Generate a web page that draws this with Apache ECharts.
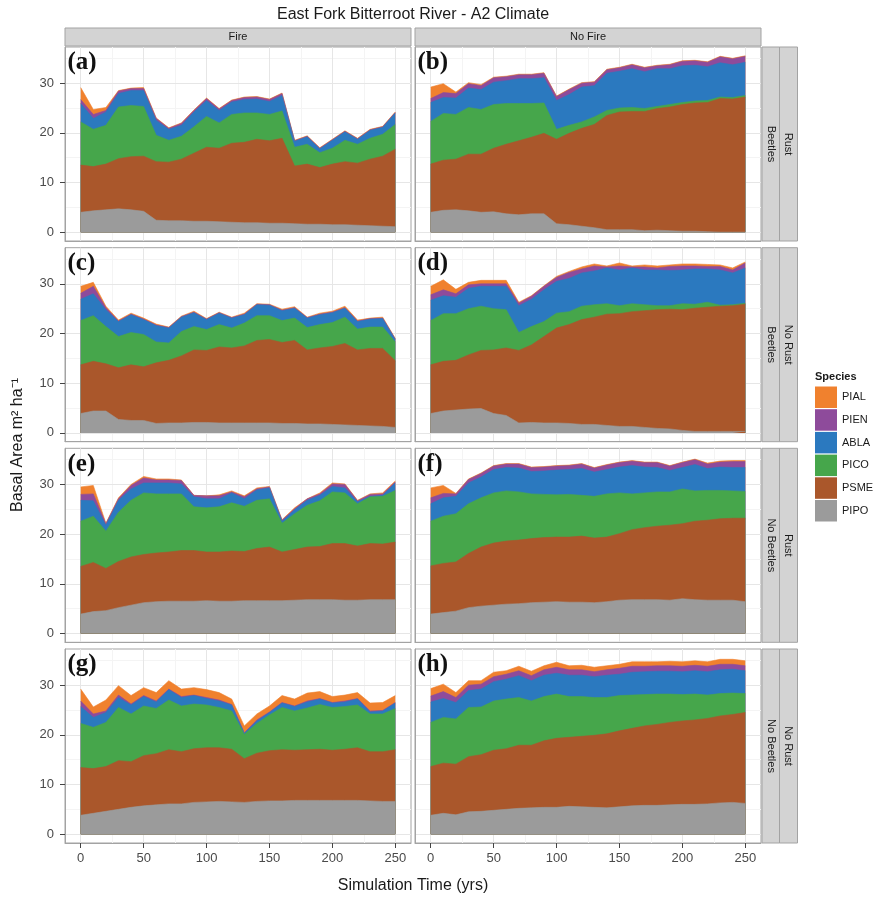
<!DOCTYPE html>
<html><head><meta charset="utf-8">
<script src="https://cdn.jsdelivr.net/npm/echarts@6/dist/echarts.min.js"></script>
<style>html,body{margin:0;padding:0;background:#fff}#c{width:877px;height:900px}</style>
</head><body><div id="c"></div>
<script>
// ---------------- data ----------------
const years = [0,10,20,30,40,50,60,70,80,90,100,110,120,130,140,150,160,170,180,190,200,210,220,230,240,250];
const species = ['PIAL','PIEN','ABLA','PICO','PSME','PIPO'];
const speciesColors = ['#F0812E','#8E4B9B','#2B79BF','#46A64B','#AA572B','#9B9B9B'];
const fireLabels = ['Fire','No Fire'];
const beetleLabels = ['Beetles','Beetles','No Beetles','No Beetles'];
const rustLabels = ['Rust','No Rust','Rust','No Rust'];
const panelLabels = ['(a)','(b)','(c)','(d)','(e)','(f)','(g)','(h)'];
const xTicks = [0,50,100,150,200,250];
const yTicks = [0,10,20,30];
const xMinor = [25,75,125,175,225];
const yMinor = [5,15,25,35];
const chartTitle = 'East Fork Bitterroot River - A2 Climate';
const xTitle = 'Simulation Time (yrs)';
const yTitle = 'Basal Area m\u00B2 ha\u207B\u00B9';

// Values are the top edge of each species band in the stack (cumulative basal area, m2/ha)
// (a) Fire / Beetles / Rust
const a_PIAL = [29.1,24.7,25.1,28.5,29.0,29.1,23.0,21.0,22.0,24.6,27.0,24.9,26.6,27.2,27.3,26.8,28.0,18.5,19.4,17.0,18.7,20.4,18.9,20.7,21.3,24.2];
const a_PIEN = [26.7,23.7,24.5,28.4,28.9,28.9,22.9,20.9,21.9,24.5,26.9,24.8,26.5,27.1,27.2,26.7,27.9,18.4,19.3,16.9,18.6,20.3,18.8,20.6,21.2,24.1];
const a_ABLA = [25.9,22.9,24.2,27.9,28.5,28.5,22.5,20.7,21.5,24.2,26.5,24.5,26.2,26.7,26.8,26.3,27.5,18.3,19.2,16.8,18.5,20.2,18.7,20.5,21.1,24.0];
const a_PICO = [22.2,20.7,21.5,25.2,25.5,25.3,19.5,18.5,19.3,21.2,23.3,22.0,23.7,24.0,24.0,23.7,24.4,17.1,17.7,16.0,16.9,18.5,17.7,18.9,19.7,21.7];
const a_PSME = [13.5,13.2,13.7,14.8,15.2,15.3,14.2,14.1,14.7,15.9,17.1,16.9,17.9,18.1,18.7,18.4,18.9,13.3,13.7,13.0,13.7,14.2,13.9,14.7,15.3,16.7];
const a_PIPO = [4.0,4.3,4.5,4.7,4.5,4.2,2.4,2.3,2.3,2.2,2.2,2.1,2.0,1.9,1.9,1.8,1.8,1.7,1.6,1.6,1.5,1.5,1.4,1.3,1.2,1.1];
// (b) No Fire / Beetles / Rust
const b_PIAL = [29.2,29.9,28.2,30.1,29.7,31.2,31.4,31.8,31.8,32.1,27.4,28.8,30.1,30.3,32.8,33.2,33.8,33.2,33.6,33.8,34.5,34.6,34.3,35.4,35.0,35.5];
const b_PIEN = [26.9,28.1,27.9,29.9,29.5,31.1,31.3,31.7,31.7,32.0,27.3,28.7,30.0,30.2,32.7,33.1,33.7,33.1,33.5,33.7,34.4,34.5,34.2,35.3,34.9,35.4];
const b_ABLA = [26.1,27.1,27.0,29.0,28.7,30.2,30.5,30.9,30.9,31.1,26.5,27.7,29.2,29.5,32.0,32.4,32.9,32.3,32.9,32.9,33.5,33.6,33.3,34.1,33.7,34.2];
const b_PICO = [22.3,23.9,23.7,25.1,24.7,25.7,25.9,25.9,25.9,26.0,20.7,21.5,22.2,23.2,24.5,25.0,25.1,24.9,25.3,25.7,26.1,26.4,26.5,27.2,27.1,27.5];
const b_PSME = [13.7,14.5,14.7,15.7,15.7,16.9,17.7,18.4,19.1,19.9,18.7,19.9,20.9,21.7,23.5,24.2,24.3,24.3,24.9,25.2,25.7,26.0,26.1,26.9,26.8,27.2];
const b_PIPO = [4.0,4.4,4.5,4.3,4.0,4.1,3.7,3.5,3.7,3.7,1.7,1.5,1.2,0.9,0.5,0.5,0.5,0.3,0.4,0.3,0.2,0.2,0.1,0.0,0.0,0.0];
// (c) Fire / Beetles / No Rust
const c_PIAL = [29.5,30.3,25.5,22.7,24.1,23.1,21.9,21.3,23.5,24.5,23.0,24.3,23.3,24.1,26.0,25.9,24.9,25.4,23.3,24.1,24.5,25.5,22.7,23.1,23.3,19.0];
const c_PIEN = [28.1,29.5,25.2,22.5,23.9,22.9,21.7,21.2,23.4,24.3,22.9,24.2,23.2,23.9,25.9,25.8,24.7,25.2,23.2,23.9,24.3,25.2,22.5,23.0,23.1,18.9];
const c_ABLA = [26.9,28.0,24.8,22.4,23.8,22.8,21.6,21.1,23.3,24.2,22.8,24.1,23.1,23.8,25.8,25.7,24.6,25.1,23.1,23.8,24.2,25.1,22.4,22.9,23.0,18.8];
const c_PICO = [22.6,23.6,21.4,19.4,20.2,19.8,18.3,18.1,20.4,21.4,20.8,21.8,21.1,22.1,23.6,23.6,22.6,23.1,21.2,21.8,22.2,23.3,20.9,21.3,21.3,18.3];
const c_PSME = [13.7,14.4,13.9,13.1,13.7,13.3,14.1,14.6,15.5,16.7,16.6,17.3,17.1,17.5,18.6,18.8,18.2,18.6,16.7,17.1,17.4,18.0,16.7,17.0,17.0,14.5];
const c_PIPO = [3.9,4.4,4.4,2.7,2.5,2.5,1.9,2.0,2.0,2.1,2.1,2.0,2.0,2.0,2.0,2.0,1.9,1.9,1.8,1.8,1.7,1.6,1.5,1.4,1.3,1.1];
// (d) No Fire / Beetles / No Rust
const d_PIAL = [29.5,30.8,28.9,30.3,30.7,30.7,30.7,26.3,27.6,29.6,31.5,32.5,33.4,34.0,33.6,34.2,33.6,33.8,33.6,33.8,34.0,34.0,33.9,33.8,33.2,34.4];
const d_PIEN = [27.8,28.8,28.0,29.8,30.0,30.0,30.0,26.1,27.5,29.5,31.3,32.3,33.0,33.6,33.4,33.6,33.4,33.4,33.2,33.5,33.6,33.6,33.5,33.5,32.8,34.2];
const d_ABLA = [26.7,27.6,27.3,29.1,29.5,29.5,29.5,25.6,26.9,28.8,30.5,31.1,32.2,32.6,33.2,32.8,33.2,32.8,32.8,32.7,32.8,33.0,33.0,32.8,32.2,33.2];
const d_PICO = [22.6,24.0,24.0,25.0,25.5,25.0,24.8,20.2,21.4,22.4,24.1,24.4,25.5,25.8,26.0,25.6,26.0,25.8,25.6,25.6,26.0,25.9,26.3,25.7,25.8,26.1];
const d_PSME = [13.7,14.4,14.6,15.7,16.6,16.7,17.1,16.6,17.7,19.4,21.1,21.8,22.8,23.3,23.9,24.0,24.4,24.6,24.8,24.9,24.8,25.1,25.3,25.5,25.6,25.9];
const d_PIPO = [3.9,4.4,4.6,4.8,4.9,3.9,3.5,2.0,2.1,2.0,2.0,1.9,1.7,1.7,1.5,1.3,1.3,1.1,0.9,0.8,0.5,0.3,0.3,0.3,0.3,0.3];
// (e) Fire / No Beetles / Rust
const e_PIAL = [29.5,29.8,22.2,27.3,30.0,31.6,31.1,31.1,30.9,27.8,27.7,27.9,28.7,27.7,29.3,29.6,22.9,25.3,27.1,28.3,30.3,30.1,26.8,28.1,28.3,30.7];
const e_PIEN = [28.0,28.1,22.1,27.1,29.8,31.3,30.9,30.9,30.8,27.8,27.7,27.7,28.5,27.5,29.1,29.5,22.8,25.1,27.1,28.1,30.1,30.0,26.7,28.0,28.1,30.5];
const e_ABLA = [26.8,26.7,21.8,26.8,29.1,30.3,30.3,30.3,30.1,27.5,27.1,27.1,28.3,27.1,28.9,29.3,22.6,24.9,26.8,27.8,29.6,29.3,26.5,27.6,27.8,30.3];
const e_PICO = [22.6,23.6,20.6,24.4,26.8,28.3,28.1,28.1,28.1,25.5,25.3,25.5,26.3,25.6,26.8,27.1,22.2,24.1,25.8,26.7,28.5,28.3,26.1,27.5,27.6,28.8];
const e_PSME = [13.5,14.3,13.1,14.5,15.4,15.9,16.2,16.4,16.7,16.7,16.4,16.4,16.6,16.5,17.1,17.4,16.4,16.9,17.4,17.5,18.1,18.1,17.6,18.1,18.0,18.4];
const e_PIPO = [3.9,4.4,4.6,5.2,5.7,6.2,6.4,6.5,6.5,6.5,6.6,6.5,6.5,6.6,6.6,6.6,6.6,6.7,6.8,6.8,6.8,6.7,6.7,6.8,6.8,6.8];
// (f) No Fire / No Beetles / Rust
const f_PIAL = [29.3,29.8,28.2,31.1,32.3,33.8,34.2,34.2,33.5,33.6,33.8,33.9,34.2,33.4,34.0,34.5,34.8,34.5,34.5,33.8,34.5,35.1,34.3,34.7,34.8,34.8];
const f_PIEN = [27.3,28.2,28.1,31.0,32.2,33.7,34.1,34.1,33.4,33.5,33.7,33.8,34.1,33.3,33.9,34.4,34.7,34.4,34.4,33.7,34.4,35.0,34.1,34.5,34.6,34.6];
const f_ABLA = [26.1,27.3,27.6,30.3,31.5,33.0,33.4,33.3,32.6,32.7,32.9,33.0,33.2,32.5,33.0,33.5,33.8,33.5,33.4,32.8,33.4,34.0,33.2,33.5,33.4,33.4];
const f_PICO = [22.6,23.6,24.1,26.1,27.3,28.3,28.7,28.5,28.1,28.0,27.9,28.0,27.8,27.6,28.1,28.3,28.1,28.3,28.5,28.5,29.1,28.7,28.8,28.8,28.7,28.6];
const f_PSME = [13.6,14.1,14.4,16.1,17.4,18.2,18.6,18.8,19.1,19.3,19.4,19.4,19.6,19.2,19.4,20.1,20.9,21.3,21.6,21.8,22.1,22.6,22.8,23.1,23.2,23.2];
const f_PIPO = [3.9,4.2,4.5,5.2,5.5,5.7,5.9,6.0,6.2,6.3,6.4,6.3,6.3,6.2,6.4,6.7,6.8,6.8,6.8,6.7,7.0,6.8,6.7,6.7,6.7,6.4];
// (g) Fire / No Beetles / No Rust
const g_PIAL = [29.2,25.6,27.0,29.9,27.9,29.5,28.5,30.9,29.2,29.5,29.1,28.5,27.2,21.8,24.2,25.8,27.9,27.2,28.4,28.7,27.7,28.0,28.5,26.4,26.5,27.9];
const g_PIEN = [26.8,24.2,24.8,28.0,26.2,27.9,26.8,29.2,27.7,28.0,27.5,27.0,26.1,20.4,23.0,24.6,26.5,25.8,26.8,27.3,26.5,26.8,27.3,24.8,24.9,26.5];
const g_ABLA = [25.7,23.5,24.5,27.5,26.0,27.7,26.6,29.1,27.5,27.9,27.3,26.8,26.0,20.3,22.8,24.5,26.4,25.7,26.6,27.2,26.4,26.6,27.2,24.6,24.8,26.4];
const g_PICO = [22.3,21.5,22.5,25.5,24.2,25.8,25.3,27.0,25.8,26.2,26.0,25.5,24.8,20.1,22.3,24.0,25.5,24.8,25.4,26.1,25.5,25.7,26.0,24.2,24.2,25.3];
const g_PSME = [13.4,13.2,13.6,14.8,14.6,15.8,16.2,17.0,16.6,17.2,17.4,17.4,17.1,15.2,16.3,16.8,17.0,16.9,17.0,17.1,16.9,17.1,17.4,16.6,16.6,17.0];
const g_PIPO = [3.8,4.2,4.6,5.0,5.4,5.7,5.9,6.1,6.1,6.4,6.5,6.6,6.5,6.4,6.6,6.7,6.7,6.8,6.8,6.8,6.8,6.8,6.8,6.7,6.6,6.6];
// (h) No Fire / No Beetles / No Rust
const h_PIAL = [29.3,30.2,28.5,30.9,30.9,32.6,32.9,33.8,32.8,33.9,34.6,33.9,34.0,33.6,33.9,34.2,34.7,34.7,34.7,34.8,34.7,34.9,34.7,35.2,35.2,34.9];
const h_PIEN = [27.8,28.7,27.5,30.0,30.2,31.7,32.2,32.9,31.9,33.1,33.6,33.1,33.1,32.7,33.1,33.4,33.8,33.8,33.9,33.9,33.8,34.0,33.8,34.2,34.2,33.9];
const h_ABLA = [26.6,27.3,26.5,28.9,29.2,30.7,31.2,31.9,30.9,32.0,32.4,32.0,32.0,31.7,32.0,32.2,32.6,32.7,32.8,32.8,32.7,32.9,32.7,33.1,33.2,32.9];
const h_PICO = [22.5,23.5,23.2,25.5,25.6,26.8,27.2,27.5,26.8,27.7,28.2,27.7,27.7,27.5,27.5,27.9,28.0,28.1,28.2,28.2,28.1,28.2,28.0,28.3,28.4,28.3];
const h_PSME = [13.6,14.3,14.1,15.6,16.0,16.9,17.2,17.9,17.9,18.8,19.3,19.5,19.7,19.9,20.2,20.8,21.3,21.8,22.1,22.5,22.8,23.0,23.3,23.8,24.1,24.5];
const h_PIPO = [3.8,4.2,3.9,4.5,4.6,4.8,5.0,5.2,5.3,5.4,5.4,5.6,5.5,5.4,5.3,5.5,5.7,5.8,5.8,5.9,6.0,6.0,6.1,6.3,6.4,6.2];

const panelData = [
  [a_PIAL,a_PIEN,a_ABLA,a_PICO,a_PSME,a_PIPO],
  [b_PIAL,b_PIEN,b_ABLA,b_PICO,b_PSME,b_PIPO],
  [c_PIAL,c_PIEN,c_ABLA,c_PICO,c_PSME,c_PIPO],
  [d_PIAL,d_PIEN,d_ABLA,d_PICO,d_PSME,d_PIPO],
  [e_PIAL,e_PIEN,e_ABLA,e_PICO,e_PSME,e_PIPO],
  [f_PIAL,f_PIEN,f_ABLA,f_PICO,f_PSME,f_PIPO],
  [g_PIAL,g_PIEN,g_ABLA,g_PICO,g_PSME,g_PIPO],
  [h_PIAL,h_PIEN,h_ABLA,h_PICO,h_PSME,h_PIPO]
];

// ---------------- layout ----------------
const colLeft = [65, 415], colWidth = [346, 346];
const rowTop = [47, 247.7, 448.3, 649], rowH = 194;
const xRange = [-12.5, 262.5], yRange = [-1.775, 37.275];
const FONT = '"Liberation Sans", Arial, Helvetica, sans-serif';
const textDark = '#1A1A1A';
const borderCol = '#A3A3A3';

const grids = [], xAxes = [], yAxes = [], series = [], graphics = [];
for (let p = 0; p < 8; p++) {
  const row = Math.floor(p / 2), col = p % 2;
  grids.push({ left: colLeft[col], top: rowTop[row], width: colWidth[col], height: rowH,
    show: true, borderColor: borderCol, borderWidth: 1, backgroundColor: '#fff', containLabel: false });
  const bottom = row === 3, leftCol = col === 0;
  xAxes.push({ type: 'value', gridIndex: p, min: xRange[0], max: xRange[1], position: 'bottom', z: 10,
    axisLine: { show: true, onZero: false, lineStyle: { color: borderCol, width: 1 } },
    splitLine: { show: false },
    axisTick: { show: bottom, inside: false, customValues: xTicks, length: 5, lineStyle: { color: '#444', width: 1 } },
    axisLabel: { show: bottom, customValues: xTicks, margin: 9, fontSize: 13, color: '#4A4A4A', fontFamily: FONT } });
  yAxes.push({ type: 'value', gridIndex: p, min: yRange[0], max: yRange[1], position: 'left', z: 10,
    axisLine: { show: true, onZero: false, lineStyle: { color: borderCol, width: 1 } },
    splitLine: { show: false },
    axisTick: { show: leftCol, inside: false, customValues: yTicks, length: 5, lineStyle: { color: '#444', width: 1 } },
    axisLabel: { show: leftCol, customValues: yTicks, margin: 11, fontSize: 13, color: '#4A4A4A', fontFamily: FONT } });
  const gl = [];
  yMinor.forEach(v => gl.push({ yAxis: v, lineStyle: { color: '#F4F4F4', width: 1, type: 'solid' } }));
  xMinor.forEach(v => gl.push({ xAxis: v, lineStyle: { color: '#F4F4F4', width: 1, type: 'solid' } }));
  yTicks.forEach(v => gl.push({ yAxis: v, lineStyle: { color: '#E6E6E6', width: 1, type: 'solid' } }));
  xTicks.forEach(v => gl.push({ xAxis: v, lineStyle: { color: '#E6E6E6', width: 1, type: 'solid' } }));
  series.push({ type: 'line', name: '_grid', xAxisIndex: p, yAxisIndex: p, data: [], silent: true, z: 1,
    markLine: { silent: true, symbol: ['none', 'none'], animation: false, z: 1, label: { show: false },
      emphasis: { disabled: true }, data: gl } });
  species.forEach((sp, k) => {
    const vals = panelData[p][k];
    series.push({ type: 'line', name: sp, xAxisIndex: p, yAxisIndex: p, z: 2,
      data: years.map((t, i) => [t, vals[i]]),
      color: speciesColors[k], showSymbol: false, symbol: 'none', silent: true, animation: false,
      lineStyle: { width: 0.6, color: speciesColors[k] },
      areaStyle: { color: speciesColors[k], opacity: 1 } });
  });
  // panel tag
  graphics.push({ type: 'text', x: colLeft[col] + 2.5, y: rowTop[row] + 16, z: 50,
    style: { text: panelLabels[p], font: 'bold 25px "Liberation Serif", "Times New Roman", serif', fill: '#111', verticalAlign: 'middle', align: 'left' } });
}

// top strips
fireLabels.forEach((lab, c) => {
  graphics.push({ type: 'rect', shape: { x: colLeft[c], y: 28, width: colWidth[c], height: 18 },
    style: { fill: '#D3D3D3', stroke: borderCol, lineWidth: 1 } });
  graphics.push({ type: 'text', x: colLeft[c] + colWidth[c] / 2, y: 37,
    style: { text: lab, font: '11px ' + FONT, fill: textDark, align: 'center', verticalAlign: 'middle' } });
});
// right strips
for (let r = 0; r < 4; r++) {
  const y0 = rowTop[r];
  [[762, 17.5, beetleLabels[r]], [779.5, 18, rustLabels[r]]].forEach(([x0, w, lab]) => {
    graphics.push({ type: 'rect', shape: { x: x0, y: y0, width: w, height: rowH },
      style: { fill: '#D3D3D3', stroke: borderCol, lineWidth: 1 } });
    graphics.push({ type: 'text', x: x0 + w / 2, y: y0 + rowH / 2, rotation: -Math.PI / 2,
      style: { text: lab, font: '11px ' + FONT, fill: textDark, align: 'center', verticalAlign: 'middle' } });
  });
}
// titles
graphics.push({ type: 'text', x: 413, y: 15, style: { text: chartTitle, font: '16px ' + FONT, fill: textDark, align: 'center', verticalAlign: 'middle' } });
graphics.push({ type: 'text', x: 413, y: 886, style: { text: xTitle, font: '16px ' + FONT, fill: textDark, align: 'center', verticalAlign: 'middle' } });
graphics.push({ type: 'text', x: 18, y: 445, rotation: Math.PI / 2, style: { text: yTitle, font: '16px ' + FONT, fill: textDark, align: 'center', verticalAlign: 'middle' } });
graphics.push({ type: 'text', x: 815, y: 377, style: { text: 'Species', font: 'bold 11px ' + FONT, fill: textDark, align: 'left', verticalAlign: 'middle' } });

const chart = echarts.init(document.getElementById('c'), null, { renderer: 'canvas' });
chart.setOption({
  animation: false,
  backgroundColor: '#fff',
  grid: grids, xAxis: xAxes, yAxis: yAxes, series: series,
  legend: { orient: 'vertical', left: 815, top: 386.5, itemWidth: 22, itemHeight: 21.5, itemGap: 1.2,
    icon: 'rect', padding: 0, selectedMode: false, data: species,
    textStyle: { fontSize: 11, color: textDark, fontFamily: FONT } },
  graphic: { elements: graphics }
});
</script></body></html>
